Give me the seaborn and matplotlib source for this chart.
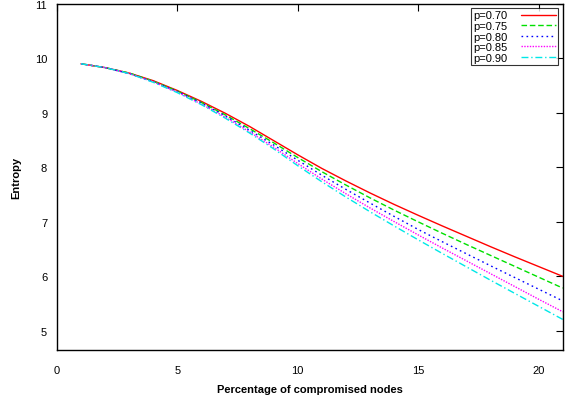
import numpy as np
import pandas as pd
import matplotlib
matplotlib.use('Agg')
import matplotlib.pyplot as plt
import seaborn as sns

# ── data ─────────────────────────────────────────────────────────
x_pct = [1, 2, 3, 4, 5, 6, 7, 8, 9, 10, 11, 12, 13, 14, 15, 16, 17, 18, 19, 20, 21]

p070 = [9.90, 9.83, 9.73, 9.59, 9.41, 9.21, 8.99, 8.75, 8.49, 8.23, 7.98,
        7.75, 7.53, 7.32, 7.12, 6.925, 6.735, 6.545, 6.36, 6.18, 6.00]
p075 = [9.90, 9.83, 9.73, 9.58, 9.40, 9.19, 8.96, 8.71, 8.45, 8.18, 7.92,
        7.675, 7.44, 7.215, 7.00, 6.79, 6.585, 6.385, 6.185, 5.985, 5.785]
p080 = [9.90, 9.83, 9.72, 9.57, 9.39, 9.18, 8.94, 8.68, 8.41, 8.13, 7.855,
        7.595, 7.345, 7.10, 6.86, 6.635, 6.415, 6.195, 5.98, 5.765, 5.55]
p085 = [9.90, 9.83, 9.72, 9.57, 9.38, 9.16, 8.92, 8.65, 8.37, 8.07, 7.785,
        7.515, 7.255, 7.005, 6.76, 6.52, 6.285, 6.05, 5.815, 5.58, 5.35]
p090 = [9.90, 9.83, 9.72, 9.56, 9.37, 9.15, 8.90, 8.63, 8.34, 8.03, 7.735,
        7.455, 7.185, 6.925, 6.67, 6.42, 6.175, 5.93, 5.69, 5.45, 5.21]

labels = ['p=0.70', 'p=0.75', 'p=0.80', 'p=0.85', 'p=0.90']
series = [p070, p075, p080, p085, p090]

x_ticks = [0, 5, 10, 15, 20]
y_ticks = [5, 6, 7, 8, 9, 10, 11]

colors = ['#ff0000', '#00e000', '#0000ff', '#ff00ff', '#00e8e8']
dashes = ['', (4, 2), (1.2, 2.4), (1, 1), (5, 2, 1, 2)]

sns.set_style('white')
plt.rcParams['font.family'] = ['Liberation Sans', 'DejaVu Sans']
plt.rcParams['text.color'] = 'black'
plt.rcParams['axes.labelcolor'] = 'black'

df = pd.DataFrame({
    'x': np.tile(x_pct, len(series)),
    'y': np.concatenate(series),
    'p': np.repeat(labels, len(x_pct)),
})

fig = plt.figure(figsize=(5.69, 4.02), dpi=100)
ax = fig.add_axes([0.100, 0.127, 0.889, 0.861])

sns.lineplot(data=df, x='x', y='y', hue='p', style='p',
             palette=dict(zip(labels, colors)),
             dashes=dict(zip(labels, dashes)),
             linewidth=1.0, ax=ax)

ax.set_xlim(0, 21)
ax.set_ylim(4.65, 11)
ax.set_xticks(x_ticks)
ax.set_yticks(y_ticks)
ax.tick_params(direction='in', length=5, width=0.8, top=True, right=True,
               labelsize=8, colors='black')
ax.tick_params(axis='x', pad=11)
ax.tick_params(axis='y', pad=7)
for s in ax.spines.values():
    s.set_linewidth(1.0)
    s.set_color('black')

ax.set_xlabel('Percentage of compromised nodes', fontsize=8, fontweight='bold', labelpad=6)
ax.set_ylabel('Entropy', fontsize=8, fontweight='bold', labelpad=10)

leg = ax.legend(loc='upper right', fontsize=8, markerfirst=False, frameon=True,
                fancybox=False, handlelength=3.2, handletextpad=1.2,
                borderpad=0.2, labelspacing=0.05, borderaxespad=0.4)
leg.get_frame().set_edgecolor('black')
leg.get_frame().set_linewidth(0.8)
for t in leg.get_texts():
    t.set_color('black')

plt.savefig('out.png', dpi=100)
plt.close()
